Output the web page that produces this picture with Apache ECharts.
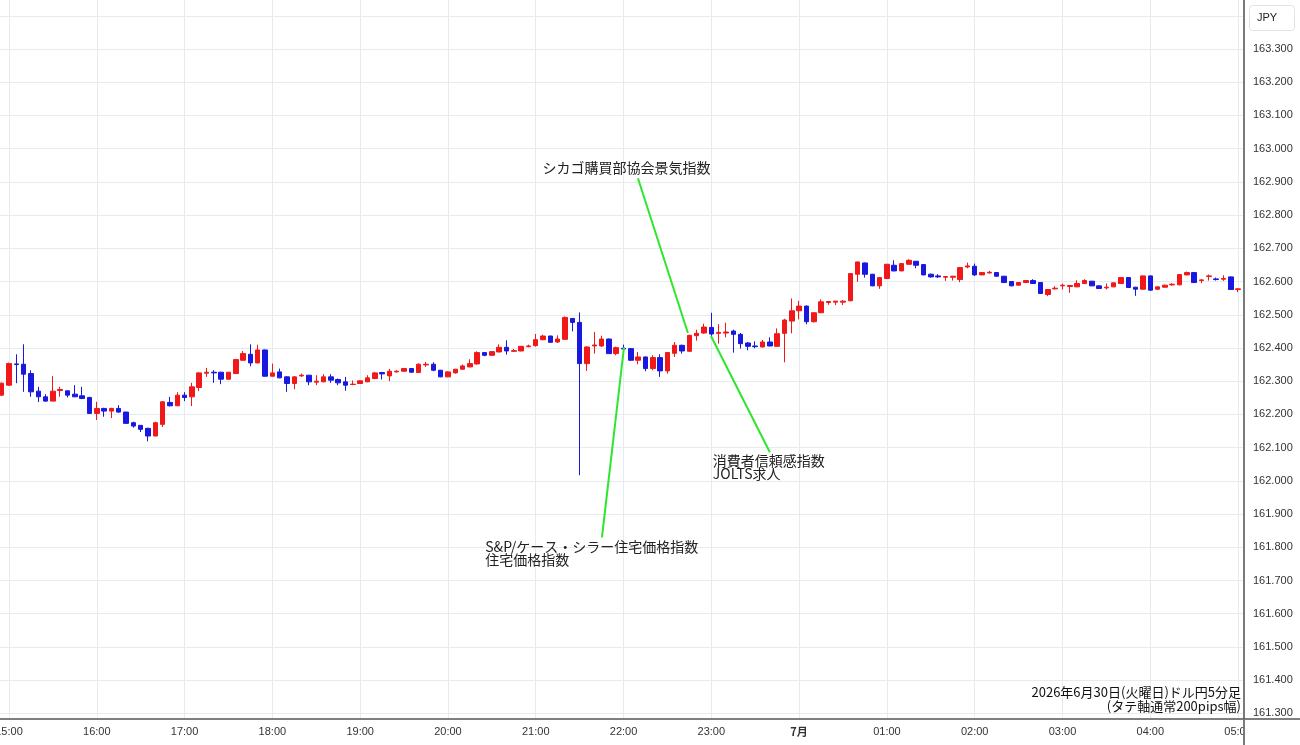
<!DOCTYPE html>
<html><head><meta charset="utf-8">
<script src="https://cdn.jsdelivr.net/npm/echarts@6/dist/echarts.min.js"></script>
<style>html,body{margin:0;padding:0;background:#fff}#c{width:1300px;height:745px}</style>
</head><body><div id="c"></div>
<script>
// Hour labels placed every 12 candles (5-minute bars), starting at 15:00
const hourLabels = ['15:00','16:00','17:00','18:00','19:00','20:00','21:00','22:00','23:00','7月','01:00','02:00','03:00','04:00','05:00'];
const firstIndex = -1; // first bar is 14:55
const opens = [162.258,162.288,162.352,162.351,162.323,162.270,162.253,162.240,162.272,162.271,162.261,162.256,162.251,162.203,162.218,162.210,162.218,162.207,162.175,162.167,162.158,162.135,162.170,162.236,162.226,162.258,162.253,162.281,162.324,162.327,162.327,162.306,162.323,162.363,162.381,162.355,162.394,162.315,162.328,162.313,162.293,162.316,162.318,162.297,162.298,162.313,162.305,162.298,162.290,162.293,162.298,162.308,162.326,162.316,162.328,162.330,162.338,162.326,162.349,162.351,162.333,162.313,162.325,162.336,162.343,162.352,162.386,162.378,162.388,162.402,162.390,162.391,162.404,162.407,162.425,162.436,162.418,162.426,162.489,162.477,162.353,162.406,162.406,162.427,162.383,162.399,162.398,162.363,162.373,162.338,162.371,162.331,162.384,162.408,162.390,162.437,162.445,162.462,162.444,162.445,162.451,162.441,162.415,162.406,162.403,162.418,162.405,162.444,162.481,162.512,162.526,162.479,162.506,162.537,162.538,162.538,162.542,162.622,162.656,162.622,162.587,162.609,162.649,162.632,162.652,162.661,162.651,162.622,162.617,162.613,162.613,162.606,162.644,162.646,162.620,162.626,162.627,162.616,162.600,162.589,162.597,162.603,162.597,162.561,162.578,162.587,162.585,162.584,162.594,162.601,162.587,162.581,162.584,162.594,162.612,162.583,162.577,162.617,162.577,162.583,162.590,162.590,162.620,162.627,162.603,162.615,162.608,162.607,162.614,162.576];
const closes = [162.294,162.353,162.350,162.321,162.268,162.253,162.240,162.270,162.275,162.258,162.253,162.248,162.203,162.218,162.210,162.218,162.207,162.173,162.165,162.155,162.135,162.175,162.238,162.226,162.258,162.251,162.283,162.325,162.327,162.325,162.306,162.327,162.365,162.383,162.355,162.394,162.315,162.325,162.310,162.293,162.313,162.318,162.298,162.300,162.313,162.303,162.295,162.288,162.291,162.301,162.310,162.325,162.322,162.330,162.330,162.338,162.327,162.351,162.351,162.333,162.313,162.328,162.336,162.346,162.353,162.386,162.378,162.389,162.402,162.391,162.392,162.405,162.406,162.425,162.436,162.417,162.427,162.492,162.477,162.353,162.403,162.409,162.427,162.383,162.401,162.397,162.363,162.373,162.338,162.371,162.331,162.386,162.408,162.391,162.438,162.444,162.463,162.442,162.447,162.448,162.441,162.413,162.405,162.404,162.418,162.406,162.443,162.484,162.512,162.526,162.479,162.506,162.539,162.540,162.541,162.541,162.624,162.659,162.622,162.587,162.612,162.652,162.632,162.654,162.664,162.649,162.620,162.614,162.614,162.615,162.616,162.642,162.647,162.620,162.627,162.628,162.616,162.597,162.587,162.597,162.603,162.594,162.564,162.576,162.580,162.589,162.588,162.594,162.603,162.587,162.579,162.583,162.596,162.612,162.582,162.577,162.617,162.574,162.584,162.589,162.592,162.621,162.627,162.597,162.605,162.617,162.606,162.609,162.576,162.578];
const lows = [162.255,162.286,162.294,162.268,162.253,162.237,162.238,162.240,162.253,162.251,162.252,162.246,162.203,162.183,162.193,162.189,162.205,162.172,162.160,162.147,162.119,162.134,162.162,162.224,162.225,162.240,162.225,162.270,162.313,162.295,162.291,162.305,162.322,162.362,162.345,162.354,162.314,162.314,162.309,162.268,162.276,162.313,162.288,162.288,162.297,162.295,162.288,162.271,162.288,162.292,162.297,162.306,162.305,162.300,162.326,162.330,162.326,162.325,162.343,162.330,162.312,162.312,162.323,162.335,162.342,162.350,162.375,162.377,162.387,162.380,162.388,162.390,162.402,162.404,162.423,162.416,162.415,162.425,162.450,162.017,162.331,162.383,162.403,162.382,162.378,162.390,162.362,162.351,162.330,162.333,162.313,162.323,162.373,162.383,162.388,162.422,162.443,162.434,162.413,162.432,162.386,162.398,162.393,162.399,162.402,162.405,162.404,162.357,162.444,162.486,162.471,162.477,162.505,162.530,162.529,162.529,162.541,162.599,162.612,162.586,162.578,162.608,162.631,162.631,162.651,162.640,162.619,162.612,162.611,162.602,162.603,162.598,162.640,162.617,162.619,162.624,162.615,162.596,162.586,162.588,162.596,162.593,162.563,162.556,162.576,162.576,162.566,162.583,162.593,162.586,162.578,162.576,162.583,162.593,162.581,162.557,162.576,162.573,162.574,162.582,162.587,162.589,162.619,162.596,162.595,162.603,162.603,162.602,162.575,162.568];
const highs = [162.296,162.356,162.381,162.411,162.333,162.283,162.261,162.315,162.283,162.272,162.288,162.283,162.253,162.238,162.220,162.220,162.228,162.208,162.178,162.168,162.160,162.178,162.240,162.253,162.267,162.267,162.295,162.327,162.340,162.333,162.328,162.328,162.367,162.391,162.411,162.410,162.395,162.353,162.338,162.315,162.315,162.323,162.319,162.318,162.321,162.321,162.308,162.313,162.302,162.302,162.318,162.328,162.328,162.337,162.333,162.340,162.339,162.354,162.358,162.357,162.334,162.330,162.337,162.350,162.366,162.390,162.388,162.391,162.411,162.423,162.397,162.406,162.410,162.442,162.440,162.437,162.438,162.495,162.490,162.507,162.405,162.448,162.437,162.428,162.404,162.410,162.400,162.388,162.374,162.378,162.381,162.388,162.418,162.410,162.440,162.455,162.473,162.506,162.472,162.476,162.455,162.445,162.418,162.420,162.424,162.432,162.459,162.488,162.549,162.542,162.528,162.507,162.546,162.541,162.542,162.544,162.625,162.660,162.657,162.623,162.613,162.653,162.664,162.656,162.667,162.662,162.652,162.624,162.622,162.617,162.617,162.643,162.657,162.654,162.628,162.632,162.628,162.617,162.601,162.598,162.605,162.607,162.598,162.577,162.586,162.594,162.589,162.604,162.607,162.602,162.589,162.594,162.597,162.613,162.613,162.584,162.618,162.618,162.585,162.591,162.595,162.622,162.630,162.629,162.607,162.621,162.612,162.619,162.615,162.580];
const priceGridValues = [161.3,161.4,161.5,161.6,161.7,161.8,161.9,162.0,162.1,162.2,162.3,162.4,162.5,162.6,162.7,162.8,162.9,163.0,163.1,163.2,163.3,163.4];
const priceLabelValues = [161.3,161.4,161.5,161.6,161.7,161.8,161.9,162.0,162.1,162.2,162.3,162.4,162.5,162.6,162.7,162.8,162.9,163.0,163.1,163.2,163.3];
const titleLines = ['2026年6月30日(火曜日)ドル円5分足', '(タテ軸通常200pips幅)'];
// event annotations in data coordinates (bar index, price)
const annotations = [
  {text:'シカゴ購買部協会景気指数', textAt:[84.4,162.963], align:'center', from:[85.97,162.911], to:[92.8,162.445]},
  {text:'消費者信頼感指数\nJOLTS求人', textAt:[96.2,162.079], align:'left', from:[95.95,162.436], to:[104.0,162.086]},
  {text:'S&P/ケース・シラー住宅価格指数\n住宅価格指数', textAt:[65.1,161.821], align:'left', from:[84.06,162.402], to:[81.05,161.83]}
];

const candleData = opens.map((o, k) => [k + firstIndex, o, closes[k], lows[k], highs[k]]);
const hourValues = hourLabels.map((_, k) => k * 12);

const chart = echarts.init(document.getElementById('c'), null, {renderer: 'canvas'});
const RED = '#f01818', BLUE = '#1818e0';
chart.setOption({
  animation: false,
  backgroundColor: '#ffffff',
  grid: {left: 0, right: 56, top: 0, bottom: 26, containLabel: false, outerBoundsMode: 'none'},
  xAxis: {
    type: 'value', min: -1.23, max: 168.81,
    axisLine: {show: true, onZero: false, lineStyle: {color: '#555', width: 1.5}},
    axisTick: {show: false, customValues: hourValues},
    axisLabel: {customValues: hourValues, margin: 7, color: '#333', fontSize: 11, fontFamily: '"Liberation Sans", Arial, sans-serif',
      formatter: v => { const s = hourLabels[Math.round(v / 12)]; return s === '7月' ? '{b|' + s + '}' : s; },
      rich: {b: {fontWeight: 'bold', fontSize: 11, color: '#333', fontFamily: '"Noto Sans CJK JP", sans-serif'}}},
    splitLine: {show: true, lineStyle: {color: '#e4ebf1', width: 1}}
  },
  yAxis: {
    type: 'value', position: 'right', min: 161.283, max: 163.4476, scale: true,
    axisLine: {show: true, onZero: false, lineStyle: {color: '#7a7a7a', width: 2}},
    axisTick: {show: false, customValues: priceGridValues},
    axisLabel: {customValues: priceLabelValues, margin: 9, color: '#333', fontSize: 11, fontFamily: '"Liberation Sans", Arial, sans-serif',
      formatter: v => v.toFixed(3)},
    splitLine: {show: true, lineStyle: {color: '#e4ebf1', width: 1}}
  },
  series: [{
    type: 'candlestick',
    data: candleData,
    encode: {x: 0, y: [1, 2, 3, 4]},
    barWidth: 5,
    itemStyle: {color: RED, color0: BLUE, borderColor: RED, borderColor0: BLUE, borderWidth: 1},
    clip: true
  }]
});

function buildGraphics() {
  const g = [];
  annotations.forEach(a => {
    const p1 = chart.convertToPixel({gridIndex: 0}, a.from);
    const p2 = chart.convertToPixel({gridIndex: 0}, a.to);
    const pt = chart.convertToPixel({gridIndex: 0}, a.textAt);
    g.push({type: 'line', z: 50, shape: {x1: p1[0], y1: p1[1], x2: p2[0], y2: p2[1]}, style: {stroke: '#2ee62e', lineWidth: 2}});
    g.push({type: 'text', z: 51, x: pt[0], y: pt[1], style: {text: a.text, fill: '#222', font: '14px "Noto Sans CJK JP", sans-serif', lineHeight: 13, align: a.align, verticalAlign: 'top'}});
  });
  // JPY box
  g.push({type: 'rect', z: 60, shape: {x: 1249.5, y: 5.5, width: 45, height: 25, r: 3}, style: {fill: '#fff', stroke: '#e3e3e3', lineWidth: 1}});
  g.push({type: 'text', z: 61, x: 1267, y: 18, style: {text: 'JPY', fill: '#222', font: '500 11px "Liberation Sans", Arial, sans-serif', align: 'center', verticalAlign: 'middle'}});
  // title text bottom right
  g.push({type: 'text', z: 61, x: 1241, y: 685, style: {text: titleLines.join('\n'), fill: '#111', font: '13px "Noto Sans CJK JP", sans-serif', lineHeight: 14, align: 'right', verticalAlign: 'top'}});
  // cover under price axis, and axis line extensions
  g.push({type: 'rect', z: 70, shape: {x: 1245, y: 720, width: 55, height: 25}, style: {fill: '#fff'}});
  g.push({type: 'line', z: 71, shape: {x1: 1244, y1: 719, x2: 1300, y2: 719}, style: {stroke: '#555', lineWidth: 1.5}});
  g.push({type: 'line', z: 71, shape: {x1: 1244, y1: 719, x2: 1244, y2: 745}, style: {stroke: '#7a7a7a', lineWidth: 2}});
  return g;
}
chart.setOption({graphic: buildGraphics()});
</script>
</body></html>
